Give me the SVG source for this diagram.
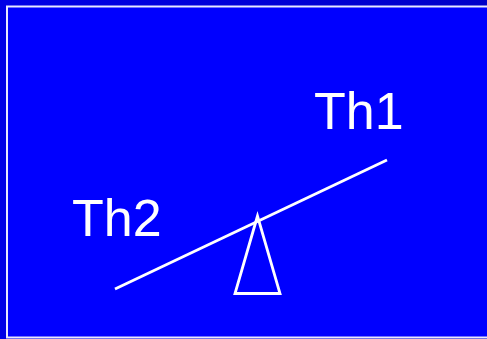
<svg xmlns="http://www.w3.org/2000/svg" width="487" height="339" viewBox="0 0 487 339">
<style>
.lbl{font-family:"Liberation Sans",Arial,sans-serif;font-size:52px;fill:#fff}
.ln{stroke:#fff;stroke-width:2.8;fill:none}
</style>
<defs>
<linearGradient id="bg" x1="0" y1="0" x2="1" y2="0">
<stop offset="0" stop-color="#0000e6"/>
<stop offset="1" stop-color="#0000c8"/>
</linearGradient>
</defs>
<rect x="0" y="0" width="487" height="339" fill="url(#bg)"/>
<rect x="7" y="6.5" width="490" height="331" fill="#0000ff" stroke="#e8e8ff" stroke-width="2"/>
<g id="connectors">
<line class="ln" x1="115" y1="289" x2="387" y2="160"/>
</g>
<g id="fulcrum">
<polygon class="ln" points="257.5,216 235,293.5 280,293.5"/>
</g>
<g id="th1"><text class="lbl" x="314" y="129">Th1</text></g>
<g id="th2"><text class="lbl" x="72" y="236">Th2</text></g>
</svg>
